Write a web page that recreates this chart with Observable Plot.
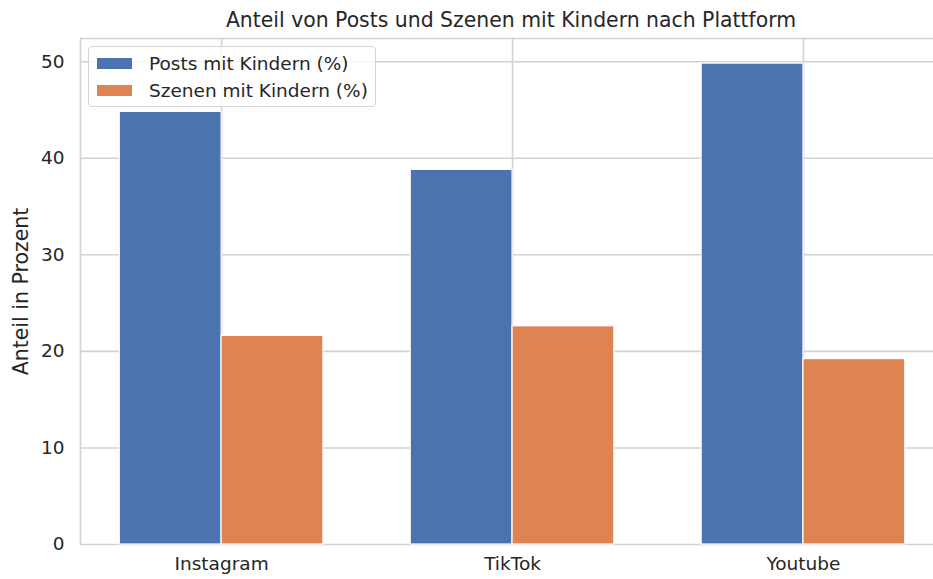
<!DOCTYPE html>
<html>
<head>
<meta charset="utf-8">
<script src="https://cdn.jsdelivr.net/npm/d3@7"></script>
<script src="https://cdn.jsdelivr.net/npm/@observablehq/plot@0.6"></script>
<style>
  html, body { margin: 0; padding: 0; background: white; overflow: hidden; }
  body { width: 933px; height: 579px; position: relative; font-family: "DejaVu Sans", sans-serif; color: #262626; }
  #title { height: 30px; width: 933px; position: relative; }
  #title span { position: absolute; left: 511px; top: 8px; transform: translateX(-50%); font-size: 20.4px; white-space: nowrap; color: #262626; }
  #legend { position: absolute; left: 88px; top: 46px; width: 288px; height: 61px; border: 1px solid #d6d6d6; border-radius: 4px; background: rgba(255,255,255,0.8); box-sizing: border-box; }
  .row { position: absolute; left: 8px; height: 22px; display: flex; align-items: center; font-size: 18.5px; white-space: nowrap; }
  .sw { width: 35px; height: 11px; margin-right: 17px; }
  svg { overflow: hidden; }
  g[aria-label="y-axis label"] text { font-size: 20.5px; }
</style>
</head>
<body>
<div id="title"><span>Anteil von Posts und Szenen mit Kindern nach Plattform</span></div>
<div id="chart"></div>
<div id="legend"></div>
<script>
const platforms = ["Instagram", "TikTok", "Youtube"];
const posts = [44.8, 38.8, 49.8];
const scenes = [21.6, 22.6, 19.2];
const seriesNames = ["Posts mit Kindern (%)", "Szenen mit Kindern (%)"];
const colors = ["#4c72b0", "#dd8452"];
const yTicks = [0, 10, 20, 30, 40, 50];

const barW = 0.35;
const rows = [];
platforms.forEach((p, i) => {
  rows.push({platform: p, series: seriesNames[0], x1: i - barW, x2: i, value: posts[i]});
  rows.push({platform: p, series: seriesNames[1], x1: i, x2: i + barW, value: scenes[i]});
});
const yMax = 52.4;

const chart = Plot.plot({
  width: 933,
  height: 549,
  marginTop: 8,
  marginBottom: 35,
  marginLeft: 80,
  marginRight: 0,
  style: {fontFamily: "DejaVu Sans, sans-serif", fontSize: "18.5px", color: "#262626", background: "white"},
  x: {domain: [-0.485, 2.447]},
  y: {domain: [0, yMax]},
  color: {domain: seriesNames, range: colors},
  marks: [
    Plot.gridX([0, 1, 2], {stroke: "#d2d2d2", strokeOpacity: 1, strokeWidth: 1.6}),
    Plot.gridY(yTicks, {stroke: "#d2d2d2", strokeOpacity: 1, strokeWidth: 1.6}),
    Plot.ruleY([yMax], {stroke: "#d2d2d2", strokeWidth: 1.6}),
    Plot.ruleX([-0.485], {stroke: "#d2d2d2", strokeWidth: 1.6}),
    Plot.rectY(rows, {x1: "x1", x2: "x2", y: "value", fill: "series", stroke: "white", strokeWidth: 1.2, inset: 0}),
    Plot.axisX([0, 1, 2], {tickFormat: i => platforms[i], tickSize: 0, tickPadding: 12, label: null, fill: "#262626"}),
    Plot.axisY(yTicks, {tickSize: 0, tickPadding: 16, label: "Anteil in Prozent", labelAnchor: "center", labelArrow: "none", labelOffset: 67, fill: "#262626"})
  ]
});
document.getElementById("chart").appendChild(chart);

const legend = document.getElementById("legend");
seriesNames.forEach((name, k) => {
  const r = document.createElement("div");
  r.className = "row";
  r.style.top = (5 + k * 27) + "px";
  const sw = document.createElement("div");
  sw.className = "sw";
  sw.style.background = colors[k];
  r.appendChild(sw);
  const t = document.createElement("span");
  t.textContent = name;
  r.appendChild(t);
  legend.appendChild(r);
});
</script>
</body>
</html>
